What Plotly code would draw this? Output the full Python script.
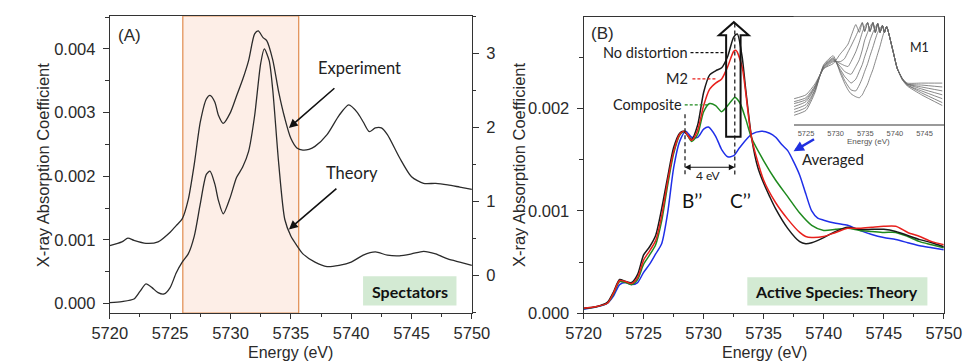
import plotly.graph_objects as go

W, H = 974, 364

# ---------------- Panel A data ----------------
E_theory_A = [5720, 5721, 5722, 5722.5, 5723, 5723.5, 5724, 5724.5, 5725, 5725.5,
              5726, 5726.5, 5727, 5727.5, 5728, 5728.3, 5728.7, 5729, 5729.4, 5730,
              5730.5, 5731, 5731.5, 5732, 5732.5, 5732.8, 5733.2, 5733.5, 5734, 5734.5,
              5735, 5735.5, 5736, 5737, 5738, 5739, 5740, 5741, 5742, 5743,
              5744, 5745, 5746, 5747, 5748, 5749, 5750]
mu_theory_A = [0.000015, 0.00003, 0.00007, 0.00019, 0.00031, 0.00025, 0.00017, 0.00015, 0.00025, 0.00048,
               0.00065, 0.00078, 0.00106, 0.00157, 0.00203, 0.00208, 0.00188, 0.00162, 0.00141, 0.00168,
               0.00198, 0.00214, 0.00239, 0.00295, 0.00377, 0.00400, 0.00382, 0.00336, 0.00219, 0.00132,
               0.00106, 0.00091, 0.00078, 0.00065, 0.00058, 0.00060, 0.00065, 0.00076, 0.00081, 0.00076,
               0.00075, 0.00078, 0.00082, 0.00078, 0.00070, 0.00065, 0.00060]

E_exp_A = [5720, 5721, 5721.5, 5722, 5723, 5724, 5725, 5725.5, 5726, 5726.5,
           5727, 5727.5, 5728, 5728.3, 5728.7, 5729, 5729.4, 5730, 5730.5, 5731,
           5731.5, 5732, 5732.3, 5732.7, 5733, 5733.5, 5734, 5734.5, 5735, 5735.5,
           5736, 5736.5, 5737, 5738, 5739, 5739.8, 5740.5, 5741, 5741.5, 5742,
           5742.5, 5743, 5744, 5745, 5746, 5747, 5748, 5749, 5750]
mu_exp_A = [0.40, 0.45, 0.50, 0.47, 0.43, 0.45, 0.58, 0.67, 0.76, 1.02,
            1.50, 2.07, 2.38, 2.43, 2.34, 2.16, 2.05, 2.20, 2.42, 2.64,
            2.90, 3.26, 3.30, 3.21, 3.17, 2.91, 2.47, 2.12, 1.85, 1.72,
            1.69, 1.70, 1.74, 1.90, 2.16, 2.30, 2.20, 2.07, 1.94, 1.99,
            1.99, 1.90, 1.59, 1.33, 1.24, 1.24, 1.22, 1.19, 1.16]

highlight_A = [5726.05, 5735.65]

# ---------------- Panel B data ----------------
E_nodist = [5720, 5721, 5722, 5722.5, 5723, 5723.5, 5724, 5724.5, 5725, 5725.5,
            5726, 5726.5, 5727, 5727.5, 5728, 5728.3, 5728.6, 5729, 5729.5, 5730,
            5730.5, 5731, 5731.5, 5732, 5732.5, 5732.8, 5733.2, 5733.5, 5734, 5734.5,
            5735, 5735.5, 5736, 5737, 5738, 5738.5, 5739, 5740, 5741, 5742,
            5743, 5744, 5745, 5746, 5747, 5748, 5749, 5750]
mu_nodist = [0.000048, 0.000063, 0.00011, 0.00021, 0.00033, 0.00031, 0.00030, 0.00038, 0.00057, 0.00065,
             0.00076, 0.00102, 0.00133, 0.00162, 0.00176, 0.00178, 0.00175, 0.00170, 0.00184, 0.00216,
             0.00233, 0.00237, 0.00240, 0.00251, 0.00270, 0.00273, 0.00251, 0.00219, 0.00171, 0.00143,
             0.00127, 0.00114, 0.00102, 0.00083, 0.00070, 0.00068, 0.00069, 0.00074, 0.00080, 0.00084,
             0.00082, 0.00082, 0.00082, 0.00080, 0.00076, 0.00072, 0.00069, 0.00065]

E_m2 = [5720, 5721, 5722, 5722.5, 5723, 5723.5, 5724, 5724.5, 5725, 5725.5,
        5726, 5726.5, 5727, 5727.5, 5728, 5728.4, 5729, 5729.5, 5730, 5730.5,
        5731, 5731.5, 5732, 5732.5, 5732.7, 5733.2, 5733.5, 5734, 5735, 5736,
        5737, 5738, 5738.5, 5739, 5740, 5741, 5742, 5743, 5744, 5745,
        5746, 5747, 5748, 5749, 5750]
mu_m2 = [0.000048, 0.000063, 0.00010, 0.00020, 0.00032, 0.00031, 0.00029, 0.00035, 0.00052, 0.00061,
         0.00071, 0.00095, 0.00129, 0.00158, 0.00175, 0.00178, 0.00169, 0.00179, 0.00203, 0.00219,
         0.00225, 0.00229, 0.00241, 0.00256, 0.00257, 0.00241, 0.00216, 0.00171, 0.00130, 0.00108,
         0.00092, 0.00079, 0.00075, 0.00074, 0.00075, 0.00079, 0.00083, 0.00083, 0.00084, 0.00085,
         0.00085, 0.00079, 0.00075, 0.00070, 0.00067]

E_comp = [5720, 5721, 5722, 5722.5, 5723, 5723.5, 5724, 5724.5, 5725, 5725.5,
          5726, 5726.5, 5727, 5727.5, 5728, 5728.4, 5729, 5729.5, 5730, 5730.5,
          5731, 5731.5, 5732, 5732.6, 5733, 5733.5, 5734, 5735, 5736, 5737,
          5738, 5739, 5740, 5741, 5742, 5743, 5744, 5745, 5746, 5747,
          5748, 5749, 5750]
mu_comp = [0.000045, 0.00006, 0.00010, 0.00019, 0.00031, 0.00030, 0.00028, 0.00033, 0.00048, 0.00057,
           0.00067, 0.00090, 0.00125, 0.00156, 0.00174, 0.00178, 0.00168, 0.00175, 0.00197, 0.00205,
           0.00203, 0.00197, 0.00203, 0.00211, 0.00206, 0.00190, 0.00171, 0.00149, 0.00130, 0.00114,
           0.00098, 0.00086, 0.00081, 0.00082, 0.00083, 0.00081, 0.00080, 0.00079, 0.00079, 0.00075,
           0.00070, 0.00067, 0.00064]

E_avg = [5720, 5721, 5722, 5722.5, 5723, 5723.5, 5724, 5724.5, 5725, 5725.5,
         5726, 5726.5, 5727, 5727.5, 5728, 5728.5, 5729, 5729.5, 5730, 5730.4,
         5731, 5731.5, 5732, 5732.5, 5733, 5734, 5734.8, 5735.5, 5736, 5736.5,
         5737, 5737.5, 5738, 5738.5, 5739, 5739.5, 5740, 5741, 5742, 5743,
         5744, 5745, 5746, 5747, 5748, 5749, 5750]
mu_avg = [0.00004, 0.00006, 0.00010, 0.00017, 0.00028, 0.00030, 0.00028, 0.00030, 0.00040, 0.00048,
          0.00058, 0.00068, 0.00098, 0.00142, 0.00168, 0.00178, 0.00172, 0.00172, 0.00180, 0.00182,
          0.00173, 0.00160, 0.00153, 0.00154, 0.00162, 0.00175, 0.00178, 0.00176, 0.00172, 0.00165,
          0.00159, 0.00148, 0.00135, 0.00117, 0.00100, 0.00093, 0.00091, 0.00088, 0.00086, 0.00081,
          0.00077, 0.00074, 0.00072, 0.00069, 0.00066, 0.00064, 0.00062]

# ---------------- Inset (M1) data ----------------
E_inset = [5723, 5725, 5726.5, 5728, 5729.6, 5730.8, 5731.5, 5732.1, 5732.6, 5733.4,
           5734.0, 5734.5, 5734.9, 5735.4, 5735.8, 5736.3, 5736.7, 5737.1, 5737.5, 5737.9,
           5738.25, 5738.6, 5739.6, 5740.4, 5741.3, 5742.1, 5744.5, 5748]
m1_curves = [
    [0.22, 0.26, 0.37, 0.53, 0.58, 0.68, 0.73, 0.78, 0.86, 0.98, 0.90, 1.00, 0.91, 1.00, 0.91, 1.00, 0.90, 0.99, 0.90, 0.97, 0.90, 0.96, 0.73, 0.53, 0.42, 0.38, 0.38, 0.38],
    [0.19, 0.23, 0.35, 0.53, 0.60, 0.60, 0.63, 0.70, 0.76, 0.86, 0.94, 1.00, 0.91, 1.00, 0.91, 1.00, 0.90, 0.99, 0.90, 0.97, 0.90, 0.96, 0.73, 0.53, 0.42, 0.37, 0.36, 0.34],
    [0.17, 0.21, 0.34, 0.54, 0.61, 0.58, 0.56, 0.55, 0.60, 0.70, 0.80, 0.90, 0.96, 1.00, 0.91, 1.00, 0.90, 0.99, 0.90, 0.97, 0.90, 0.96, 0.73, 0.53, 0.42, 0.37, 0.34, 0.30],
    [0.14, 0.19, 0.33, 0.55, 0.62, 0.55, 0.50, 0.48, 0.47, 0.55, 0.62, 0.72, 0.82, 0.90, 0.96, 1.00, 0.90, 0.99, 0.90, 0.97, 0.90, 0.96, 0.73, 0.53, 0.42, 0.37, 0.32, 0.26],
    [0.11, 0.16, 0.31, 0.55, 0.63, 0.52, 0.45, 0.41, 0.38, 0.42, 0.50, 0.57, 0.65, 0.74, 0.82, 0.90, 0.95, 0.99, 0.90, 0.97, 0.90, 0.96, 0.73, 0.53, 0.42, 0.36, 0.30, 0.22],
    [0.08, 0.13, 0.30, 0.56, 0.64, 0.50, 0.41, 0.35, 0.31, 0.30, 0.36, 0.43, 0.50, 0.58, 0.66, 0.75, 0.83, 0.90, 0.94, 0.97, 0.90, 0.96, 0.73, 0.53, 0.41, 0.36, 0.28, 0.18],
    [0.05, 0.10, 0.28, 0.57, 0.66, 0.48, 0.38, 0.31, 0.27, 0.24, 0.23, 0.26, 0.31, 0.37, 0.44, 0.52, 0.60, 0.68, 0.76, 0.85, 0.92, 0.96, 0.73, 0.53, 0.41, 0.35, 0.26, 0.15],
]
inset_ticks = [5725, 5730, 5735, 5740, 5745]
main_ticks = [5720, 5725, 5730, 5735, 5740, 5745, 5750]


def px(x):
    return x / W


def py(y):
    return 1 - y / H


TXT = '#2a2a2a'
AX = '#333333'
FONT = 'Liberation Sans'
LATO = 'Lato'

fig = go.Figure()

# Panel A traces
fig.add_trace(go.Scatter(x=E_theory_A, y=mu_theory_A, mode='lines', xaxis='x', yaxis='y',
                         line=dict(color='#2b2b2b', width=1.3, shape='spline', smoothing=0.7),
                         showlegend=False))
fig.add_trace(go.Scatter(x=E_exp_A, y=mu_exp_A, mode='lines', xaxis='x', yaxis='y2',
                         line=dict(color='#2b2b2b', width=1.3, shape='spline', smoothing=0.7),
                         showlegend=False))

# Panel B traces
for E, mu, col in [(E_avg, mu_avg, '#1f2fe8'), (E_comp, mu_comp, '#1e8a1e'),
                   (E_nodist, mu_nodist, '#1a1a1a'), (E_m2, mu_m2, '#e8201c')]:
    fig.add_trace(go.Scatter(x=E, y=mu, mode='lines', xaxis='x2', yaxis='y3',
                             line=dict(color=col, width=1.5, shape='spline', smoothing=0.7),
                             showlegend=False))

# Inset traces
for curve in m1_curves:
    fig.add_trace(go.Scatter(x=E_inset, y=curve, mode='lines', xaxis='x3', yaxis='y4',
                             line=dict(color='#6a6a6a', width=0.8, shape='spline', smoothing=0.5),
                             showlegend=False))

tickfont = dict(family=FONT, size=16.5, color=TXT)


def xax(domain, anchor):
    return dict(domain=domain, anchor=anchor, range=[5720, 5750], tickvals=main_ticks,
                showline=True, linecolor=AX, linewidth=1, mirror=True,
                ticks='outside', ticklen=5, tickcolor=AX, tickfont=tickfont,
                minor=dict(ticks='outside', ticklen=3, tickcolor=AX, dtick=2.5, tick0=5720),
                showgrid=False, zeroline=False, ticklabelstandoff=0)


fig.update_layout(
    width=W, height=H, margin=dict(l=0, r=0, t=0, b=0),
    paper_bgcolor='white', plot_bgcolor='white',
    xaxis=xax([px(87), px(463)], 'y'),
    yaxis=dict(domain=[py(313), py(8)], anchor='x', range=[-0.000153, 0.004521],
               tickvals=[0, 0.001, 0.002, 0.003, 0.004], tickformat='.3f',
               showline=True, linecolor=AX, ticks='outside', ticklen=6, tickcolor=AX,
               tickfont=tickfont, minor=dict(ticks='outside', ticklen=3.5, tickcolor=AX, dtick=0.0005, tick0=0),
               showgrid=False, zeroline=False, ticklabelstandoff=4),
    yaxis2=dict(overlaying='y', side='right', anchor='x', range=[-0.515, 3.505],
                tickvals=[0, 1, 2, 3], showline=True, linecolor=AX, ticks='outside', ticklen=6,
                tickcolor=AX, tickfont=tickfont,
                minor=dict(ticks='outside', ticklen=3.5, tickcolor=AX, dtick=0.5, tick0=0),
                showgrid=False, zeroline=False, ticklabelstandoff=4),
    xaxis2=xax([px(579), px(953)], 'y3'),
    yaxis3=dict(domain=[py(313), py(9)], anchor='x2', range=[0, 0.002898],
                tickvals=[0, 0.001, 0.002], tickformat='.3f',
                showline=True, linecolor=AX, mirror=True, ticks='outside', ticklen=6, tickcolor=AX,
                tickfont=tickfont, minor=dict(ticks='outside', ticklen=3.5, tickcolor=AX, dtick=0.0005, tick0=0),
                showgrid=False, zeroline=False, ticklabelstandoff=4),
    xaxis3=dict(domain=[px(797), px(953)], anchor='y4', range=[5722.9, 5748.25],
                tickvals=inset_ticks, showline=True, linecolor='#9a9a9a', linewidth=2,
                ticks='', tickfont=dict(family=FONT, size=7.5, color='#555'),
                showgrid=False, zeroline=False, ticklabelstandoff=1),
    yaxis4=dict(domain=[py(119), py(9)], anchor='x3', range=[-0.04, 1.06], visible=False),
)

shapes = []
# highlight region in panel A
shapes.append(dict(type='rect', xref='x', yref='y domain', x0=highlight_A[0], x1=highlight_A[1],
                   y0=0, y1=1, fillcolor='#fdeee7', line=dict(color='#e3935a', width=1.3),
                   layer='below'))
# green label boxes
shapes.append(dict(type='rect', xref='paper', yref='paper', x0=px(350), x1=px(447),
                   y0=py(305), y1=py(275), fillcolor='#d3ead3', line=dict(width=0)))
shapes.append(dict(type='rect', xref='paper', yref='paper', x0=px(749), x1=px(936),
                   y0=py(305), y1=py(276), fillcolor='#d3ead3', line=dict(width=0)))
# dashed leader lines panel B
shapes.append(dict(type='line', xref='paper', yref='paper', x0=px(690), x1=px(727), y0=py(45.7), y1=py(45.7),
                   line=dict(color='#111', width=1.3, dash='3px,2px')))
shapes.append(dict(type='line', xref='paper', yref='paper', x0=px(692), x1=px(717), y0=py(72.7), y1=py(72.7),
                   line=dict(color='#e8201c', width=1.3, dash='3px,2px')))
shapes.append(dict(type='line', xref='paper', yref='paper', x0=px(684), x1=px(708), y0=py(99.3), y1=py(99.3),
                   line=dict(color='#1e8a1e', width=1.3, dash='3px,2px')))
# vertical dashed B'' and C''
shapes.append(dict(type='line', xref='paper', yref='paper', x0=px(684.3), x1=px(684.3), y0=py(109), y1=py(173),
                   line=dict(color='#111', width=1.2, dash='4px,3px')))
shapes.append(dict(type='line', xref='paper', yref='paper', x0=px(736), x1=px(736), y0=py(16), y1=py(173),
                   line=dict(color='#111', width=1.2, dash='4px,3px')))
# hollow big arrow
pts = [(727, 132), (742, 132), (742, 28), (750.5, 28), (735, 14.5), (719.5, 28), (727, 28)]
path = 'M ' + ' L '.join(f'{px(a):.5f},{py(b):.5f}' for a, b in pts) + ' Z'
shapes.append(dict(type='path', xref='paper', yref='paper', path=path,
                   line=dict(color='#111', width=2), fillcolor='rgba(0,0,0,0)'))
fig.update_layout(shapes=shapes)

ann = []


def text(x, y, s, size=17, family=FONT, color=TXT, bold=False, xanchor='center', angle=0):
    if bold:
        s = f'<b>{s}</b>'
    ann.append(dict(xref='paper', yref='paper', x=px(x), y=py(y), text=s, showarrow=False,
                    font=dict(family=family, size=size, color=color), xanchor=xanchor,
                    yanchor='middle', textangle=angle))


def arrow(hx, hy, tx, ty, color='#111', width=1.5, head=2, size=1.0, both=False):
    d = dict(xref='paper', yref='paper', x=px(hx), y=py(hy), ax=tx - hx, ay=ty - hy,
             axref='pixel', ayref='pixel', text='', showarrow=True, arrowhead=head,
             arrowsize=size, arrowwidth=width, arrowcolor=color)
    if both:
        d['arrowside'] = 'end+start'
        d['startarrowhead'] = head
        d['startarrowsize'] = size
    ann.append(d)


# axis titles
text(18, 161, 'X-ray Absorption Coefficient', size=16.5, angle=-90)
text(275, 353.5, 'Energy (eV)', size=16)
text(512, 161, 'X-ray Absorption Coefficient', size=16.5, angle=-90)
text(766.5, 353.5, 'Energy (eV)', size=16)

# Panel A annotations
text(107.5, 28, '(A)')
text(346, 62, 'Experiment', size=16.5, family=LATO, color='#222')
text(339, 169, 'Theory', size=16.5, family=LATO, color='#222')
arrow(273, 123, 320, 82, width=1.6, head=2, size=1.1)
arrow(273, 227, 322, 185, width=1.6, head=2, size=1.1)
text(398.5, 290.5, 'Spectators', size=16, family=LATO, color='#111', bold=True)

# Panel B annotations
text(599, 26, '(B)')
text(689.5, 45.7, 'No distortion', size=14.5, family=LATO, color='#222', xanchor='right')
text(689.5, 72.7, 'M2', size=14.5, family=LATO, color='#222', xanchor='right')
text(683, 99.3, 'Composite', size=14.5, family=LATO, color='#222', xanchor='right')
arrow(736, 163.3, 684.3, 163.3, width=1.2, head=2, size=1.0, both=True)
text(708, 172, '4 eV', size=12, family=LATO, color='#222')
text(692, 197, 'B’’', size=19, family=LATO, color='#111')
text(742, 197, 'C’’', size=19, family=LATO, color='#111')
arrow(797, 147, 819, 134, color='#2030e0', width=2.6, head=2, size=0.8)
text(837.5, 155, 'Averaged', size=15, family=LATO, color='#222')
text(842, 290.5, 'Active Species: Theory', size=16, family=LATO, color='#111', bold=True)

# Inset annotations
text(928, 40, 'M1', size=12.5, family=LATO, color='#222')
text(875, 137, 'Energy (eV)', size=8, family=FONT, color='#555')

fig.update_layout(annotations=ann)

fig.write_html('out.html')
